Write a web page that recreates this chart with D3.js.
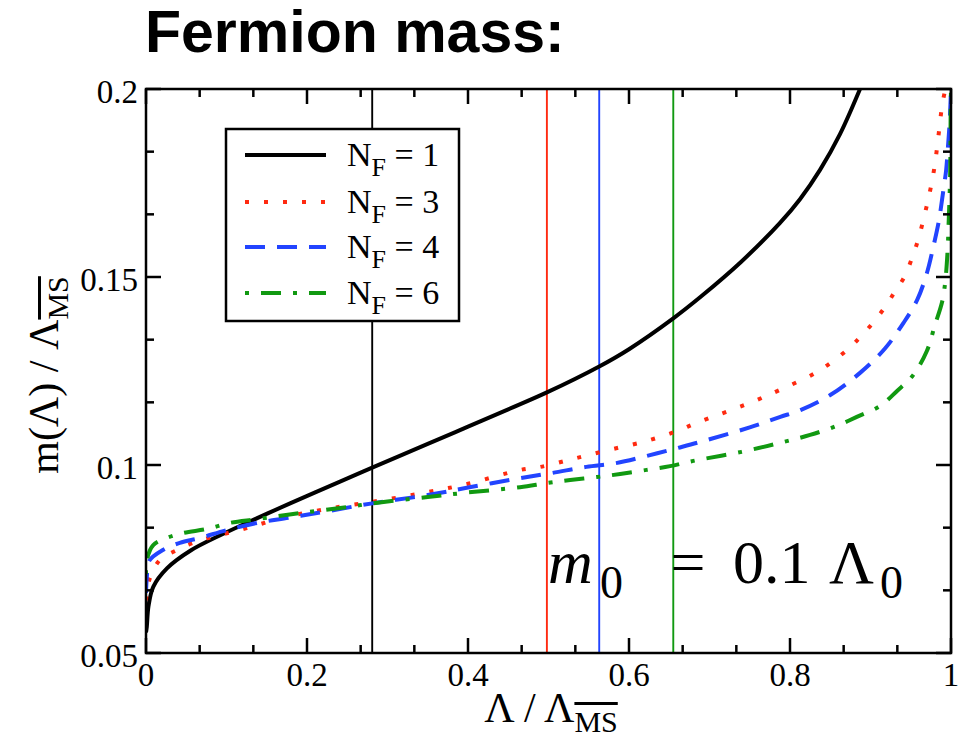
<!DOCTYPE html>
<html><head><meta charset="utf-8">
<script src="https://cdn.jsdelivr.net/npm/d3@7"></script>
<style>body{margin:0;background:#fff}svg{display:block}</style>
</head><body>
<svg id="chart" width="968" height="747"></svg>
<script>
// ---- data ----
const nf1X = [0, 0.001, 0.003, 0.009, 0.026, 0.055, 0.096, 0.1375, 0.179, 0.241, 0.281, 0.35, 0.4, 0.45, 0.498, 0.563, 0.6, 0.655, 0.6894, 0.7391, 0.7876, 0.8124, 0.8373, 0.8621, 0.887];
const nf1Y = [0.0555, 0.057, 0.0623, 0.0676, 0.0725, 0.0772, 0.0817, 0.0858, 0.0898, 0.0956, 0.0993, 0.1056, 0.1102, 0.1148, 0.1193, 0.1262, 0.1308, 0.139, 0.1448, 0.154, 0.1644, 0.1707, 0.1785, 0.188, 0.2];
const nf3X = [0, 0.001, 0.005, 0.017, 0.0385, 0.058, 0.083, 0.125, 0.17, 0.241, 0.281, 0.35, 0.4, 0.465, 0.49, 0.53, 0.575, 0.622, 0.663, 0.684, 0.75, 0.7876, 0.834, 0.871, 0.887, 0.903, 0.918, 0.93, 0.942, 0.952, 0.959, 0.965, 0.971, 0.976, 0.98, 0.983, 0.986, 0.989, 0.993];
const nf3Y = [0.064, 0.066, 0.07, 0.0747, 0.0774, 0.0793, 0.0809, 0.0832, 0.086, 0.0889, 0.0902, 0.0928, 0.095, 0.0987, 0.0995, 0.1016, 0.104, 0.1064, 0.1093, 0.1112, 0.1165, 0.12, 0.1248, 0.1306, 0.134, 0.1378, 0.142, 0.146, 0.15, 0.1553, 0.1598, 0.1646, 0.17, 0.175, 0.18, 0.185, 0.1904, 0.1957, 0.2];
const nf4X = [0, 0.001, 0.004, 0.021, 0.042, 0.067, 0.1006, 0.138, 0.179, 0.22, 0.281, 0.35, 0.4, 0.465, 0.505, 0.547, 0.584, 0.622, 0.66, 0.688, 0.75, 0.788, 0.813, 0.85, 0.887, 0.918, 0.941, 0.958, 0.97, 0.978, 0.985, 0.99, 0.994, 0.996, 0.998, 0.9995, 1.0];
const nf4Y = [0.066, 0.07, 0.0745, 0.0774, 0.0793, 0.0806, 0.0827, 0.0846, 0.086, 0.0875, 0.0898, 0.092, 0.094, 0.0965, 0.0979, 0.0995, 0.1005, 0.1024, 0.1045, 0.1061, 0.11, 0.1128, 0.1146, 0.1186, 0.1245, 0.131, 0.1378, 0.1439, 0.151, 0.158, 0.165, 0.1723, 0.1785, 0.184, 0.19, 0.197, 0.2];
const nf6X = [0, 0.001, 0.009, 0.026, 0.046, 0.076, 0.104, 0.138, 0.191, 0.25, 0.281, 0.35, 0.4, 0.4646, 0.498, 0.527, 0.56, 0.589, 0.622, 0.651, 0.68, 0.74, 0.7876, 0.825, 0.858, 0.883, 0.912, 0.933, 0.953, 0.97, 0.98, 0.989, 0.993, 0.996, 0.997, 0.998, 0.999, 0.9995, 1.0];
const nf6Y = [0.071, 0.0747, 0.0787, 0.0806, 0.0819, 0.083, 0.0846, 0.0856, 0.0872, 0.0888, 0.0898, 0.0915, 0.0927, 0.0941, 0.0952, 0.096, 0.0968, 0.0976, 0.0987, 0.0997, 0.1011, 0.1035, 0.1059, 0.108, 0.1104, 0.1128, 0.1157, 0.1197, 0.1239, 0.1303, 0.1372, 0.1434, 0.149, 0.158, 0.164, 0.17, 0.178, 0.192, 0.2];
const seriesLabels = ["1", "3", "4", "6"];
const seriesColors = ["#000000", "#ff2a10", "#2244ff", "#119911"];
const vlineX = [0.281, 0.498, 0.563, 0.655];
const xTickValues = [0, 0.2, 0.4, 0.6, 0.8, 1];
const xTickLabels = ["0", "0.2", "0.4", "0.6", "0.8", "1"];
const yTickValues = [0.05, 0.1, 0.15, 0.2];
const yTickLabels = ["0.05", "0.1", "0.15", "0.2"];

// ---- layout ----
const svg = d3.select("#chart");
const L = 146, R = 951, T = 89, B = 653;
const x = d3.scaleLinear().domain([0, 1]).range([L, R]);
const y = d3.scaleLinear().domain([0.05, 0.2]).range([B, T]);
const serif = "'Liberation Serif','Times New Roman',serif";

svg.append("text").attr("x", 145).attr("y", 52)
  .attr("font-family", "'Liberation Sans',Arial,sans-serif").attr("font-weight", "bold")
  .attr("font-size", 59).text("Fermion mass:");

svg.append("clipPath").attr("id", "clip").append("rect")
  .attr("x", L).attr("y", T).attr("width", R - L).attr("height", B - T);
const plot = svg.append("g").attr("clip-path", "url(#clip)");

// vertical lines
plot.selectAll("line.v").data(vlineX).enter().append("line")
  .attr("x1", d => x(d)).attr("x2", d => x(d)).attr("y1", T).attr("y2", B)
  .attr("stroke", (d, i) => seriesColors[i]).attr("stroke-width", 1.9);

// curves
const dashes = [null, "4,15", "20,12", "4,12,20,12"];
const seriesData = [[nf1X, nf1Y], [nf3X, nf3Y], [nf4X, nf4Y], [nf6X, nf6Y]];
const line = d3.line().x(d => x(d[0])).y(d => y(d[1])).curve(d3.curveCatmullRom.alpha(0.5));
seriesData.forEach((s, i) => {
  const pts = s[0].map((v, k) => [v, s[1][k]]);
  plot.append("path").datum(pts).attr("d", line).attr("fill", "none")
    .attr("stroke", seriesColors[i]).attr("stroke-width", 4)
    .attr("stroke-dasharray", dashes[i]);
});

// frame
svg.append("rect").attr("x", L).attr("y", T).attr("width", R - L).attr("height", B - T)
  .attr("fill", "none").attr("stroke", "#000").attr("stroke-width", 2.5);

// ticks
const xMinor = d3.range(0, 16).map(k => k / 15).filter(v => !xTickValues.some(t => Math.abs(t - v) < 1e-6));
const yMinor = d3.range(0, 10).map(k => 0.05 + k * 0.05 / 3).filter(v => !yTickValues.some(t => Math.abs(t - v) < 1e-6));
const tk = svg.append("g").attr("stroke", "#000").attr("stroke-width", 2.5);
function xt(vals, len) {
  vals.forEach(v => {
    tk.append("line").attr("x1", x(v)).attr("x2", x(v)).attr("y1", B).attr("y2", B - len);
    tk.append("line").attr("x1", x(v)).attr("x2", x(v)).attr("y1", T).attr("y2", T + len);
  });
}
function yt(vals, len) {
  vals.forEach(v => {
    tk.append("line").attr("x1", L).attr("x2", L + len).attr("y1", y(v)).attr("y2", y(v));
    tk.append("line").attr("x1", R).attr("x2", R - len).attr("y1", y(v)).attr("y2", y(v));
  });
}
xt(xTickValues, 15); xt(xMinor, 8); yt(yTickValues, 15); yt(yMinor, 8);

// tick labels
svg.selectAll("text.xl").data(xTickValues).enter().append("text")
  .attr("x", d => x(d)).attr("y", 686).attr("text-anchor", "middle")
  .attr("font-family", serif).attr("font-size", 33).text((d, i) => xTickLabels[i]);
svg.selectAll("text.yl").data(yTickValues).enter().append("text")
  .attr("x", 138).attr("y", d => y(d) + 14).attr("text-anchor", "end")
  .attr("font-family", serif).attr("font-size", 33).text((d, i) => yTickLabels[i]);

// axis titles
function msLabel(g, prefix) {
  const t = g.append("text").attr("font-family", serif).attr("font-size", 42).attr("text-anchor", "middle");
  t.append("tspan").text(prefix);
  t.append("tspan").attr("dy", 10).attr("font-size", 30).attr("text-decoration", "overline").text("MS");
  return t;
}
msLabel(svg.append("g").attr("transform", "translate(551,722)"), "Λ / Λ");
msLabel(svg.append("g").attr("transform", "translate(58,375) rotate(-90)"), "m(Λ) / Λ");

// legend
svg.append("rect").attr("x", 226).attr("y", 129).attr("width", 233).attr("height", 192)
  .attr("fill", "#fff").attr("stroke", "#000").attr("stroke-width", 2.5);
const rowsY = [155, 202, 247, 293];
seriesLabels.forEach((lab, i) => {
  svg.append("line").attr("x1", 245).attr("x2", 326).attr("y1", rowsY[i]).attr("y2", rowsY[i])
    .attr("stroke", seriesColors[i]).attr("stroke-width", 4).attr("stroke-dasharray", dashes[i]);
  const t = svg.append("text").attr("x", 347).attr("y", rowsY[i] + 11)
    .attr("font-family", serif).attr("font-size", 34);
  t.append("tspan").text("N");
  t.append("tspan").attr("dy", 10).attr("font-size", 26).text("F");
  t.append("tspan").attr("dy", -10).text(" = " + lab);
});

// annotation  m_0 = 0.1 Λ_0
const ann = svg.append("g").attr("font-family", serif);
ann.append("text").attr("x", 548).attr("y", 583).attr("font-size", 62).attr("font-style", "italic").text("m");
ann.append("text").attr("x", 600).attr("y", 598).attr("font-size", 46).text("0");
ann.append("text").attr("x", 688).attr("y", 583).attr("font-size", 62).attr("text-anchor", "middle").text("=");
ann.append("text").attr("x", 733).attr("y", 583).attr("font-size", 62).text("0.1");
ann.append("text").attr("x", 829).attr("y", 583).attr("font-size", 62).text("Λ");
ann.append("text").attr("x", 880).attr("y", 598).attr("font-size", 46).text("0");
</script>
</body></html>
